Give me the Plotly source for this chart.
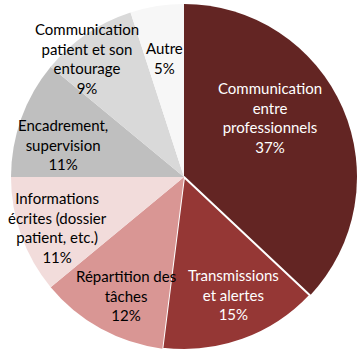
import plotly.graph_objects as go

W, H = 363, 354

labels = ["Communication<br>entre<br>professionnels", "Transmissions<br>et alertes",
          "Répartition des<br>tâches", "Informations<br>écrites (dossier<br>patient, etc.)",
          "Encadrement,<br>supervision", "Communication<br>patient et son<br>entourage", "Autre"]
values = [37, 15, 12, 11, 11, 9, 5]

colors = ["#632523", "#953735", "#D99694", "#F2DCDB", "#BFBFBF", "#D9D9D9", "#F7F7F7"]
text_colors = ["white", "white", "#000000", "#000000", "#000000", "#000000", "#000000"]
line_widths = [0, 2, 0, 0, 0, 0, 0]
# label centres in pixels (layout only)
label_px = [(270, 117), (233, 294), (126, 295), (57, 227), (63, 144), (87, 59), (164, 58)]

fig = go.Figure(go.Pie(
    labels=labels, values=values, sort=False, direction="clockwise", rotation=0,
    marker=dict(colors=colors, line=dict(color="white", width=line_widths)),
    textinfo="none", hoverinfo="label+percent", showlegend=False,
    domain=dict(x=[11 / W, 357 / W], y=[1 - 350 / H, 1 - 4 / H]),
))

total = sum(values)
for lab, v, c, (px, py) in zip(labels, values, text_colors, label_px):
    fig.add_annotation(
        x=px / W, y=1 - py / H, xref="paper", yref="paper",
        text=f"{lab}<br>{round(100 * v / total)}%", showarrow=False,
        font=dict(family="Lato", size=15, color=c), align="center",
        xanchor="center", yanchor="middle",
    )

fig.update_layout(width=W, height=H, margin=dict(l=0, r=0, t=0, b=0),
                  paper_bgcolor="white", plot_bgcolor="white")
fig.write_html("out.html")
